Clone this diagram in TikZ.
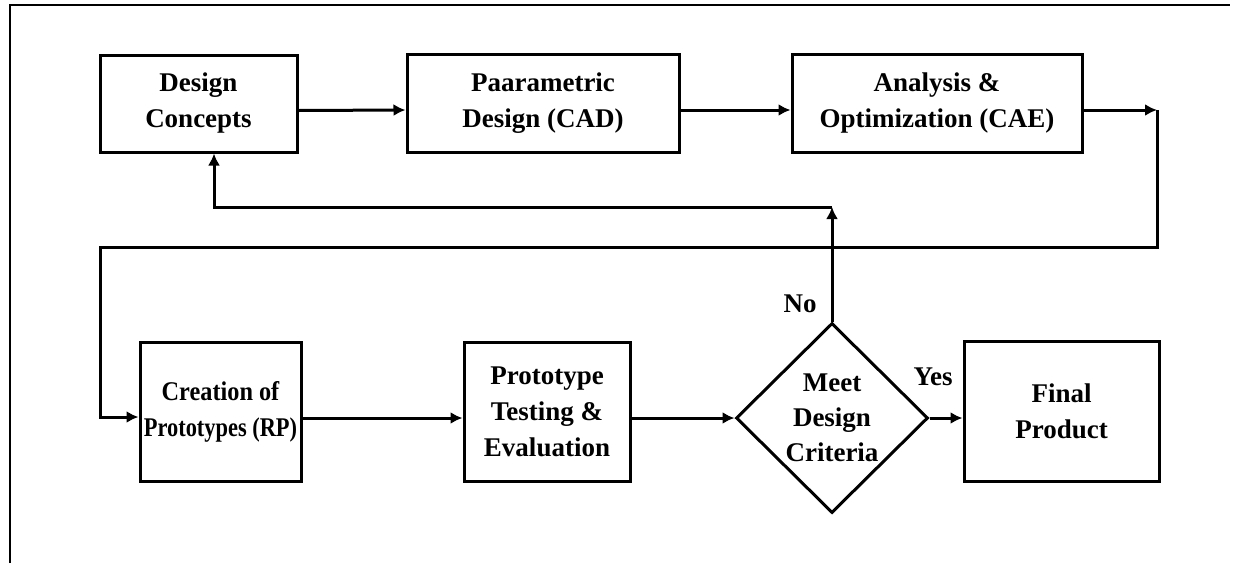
\documentclass[tikz,border=0pt]{standalone}
\usepackage{fontspec}
\setmainfont{Liberation Serif}
\usetikzlibrary{shapes.geometric,arrows.meta,calc}
\begin{document}
\begin{tikzpicture}[x=1pt,y=-1pt,
  line width=3pt,
  box/.style={draw,rectangle,align=center,inner sep=0pt,font=\fontsize{27}{36}\selectfont\bfseries},
  dia/.style={draw,diamond,aspect=1,align=center,inner sep=0pt,minimum width=192pt,minimum height=190pt,font=\fontsize{27}{35}\selectfont\bfseries},
  lbl/.style={font=\fontsize{27}{32}\selectfont\bfseries,inner sep=0pt},
  arr/.style={-{Latex[length=12pt,width=12pt]}},
  frame/.style={line width=2.6pt}]
\useasboundingbox (0,0) rectangle (1239,563);
\draw[frame] (10,563) -- (10,5) -- (1230,5);
\node[box,minimum width=197pt,minimum height=97pt] (b1) at (198.5,103.5) {Design\\Concepts};
\node[box,minimum width=272pt,minimum height=98pt] (b2) at (543,103) {Paarametric\\Design (CAD)};
\node[box,minimum width=290pt,minimum height=98pt] (b3) at (937,103) {Analysis \&\\Optimization (CAE)};
\node[box,minimum width=161pt,minimum height=139pt] (b4) at (220.5,411.5) {\scalebox{0.9}[1]{Creation of}\\\scalebox{0.83}[1]{Prototypes (RP)}};
\node[box,minimum width=166pt,minimum height=139pt] (b5) at (547,411.5) {Prototype\\Testing \&\\Evaluation};
\node[dia] (d) at (832,418) {Meet\\Design\\Criteria};
\node[box,minimum width=195pt,minimum height=140pt] (b6) at (1061.5,411) {Final\\Product};
\node[lbl] (no) at (800,304) {No};
\node[lbl] (yes) at (933,377) {Yes};
\coordinate (c1) at (1157,110);
\coordinate (j) at (832,207);
\draw[arr] ($(b1.east)+(0,7)$) -- ($(b2.west)+(0,7)$);
\draw[arr] ($(b2.east)+(0,7)$) -- ($(b3.west)+(0,7)$);
\draw[arr] ($(b3.east)+(0,7)$) -- (c1);
\draw[arr] (c1) -- (1157,247) -- (100,247) -- (100,417) -- ($(b4.west)+(0,5.5)$);
\draw[arr] ($(b4.east)+(0,6.5)$) -- ($(b5.west)+(0,6.5)$);
\draw[arr] ($(b5.east)+(0,6.5)$) -- (d.west);
\draw[arr] (d.east) -- (b6.west |- d.east);
\draw[arr] (d.north) -- (j);
\draw[arr] (j) -- (214,207) -- (b1.south -| 214,0);
\end{tikzpicture}
\end{document}
